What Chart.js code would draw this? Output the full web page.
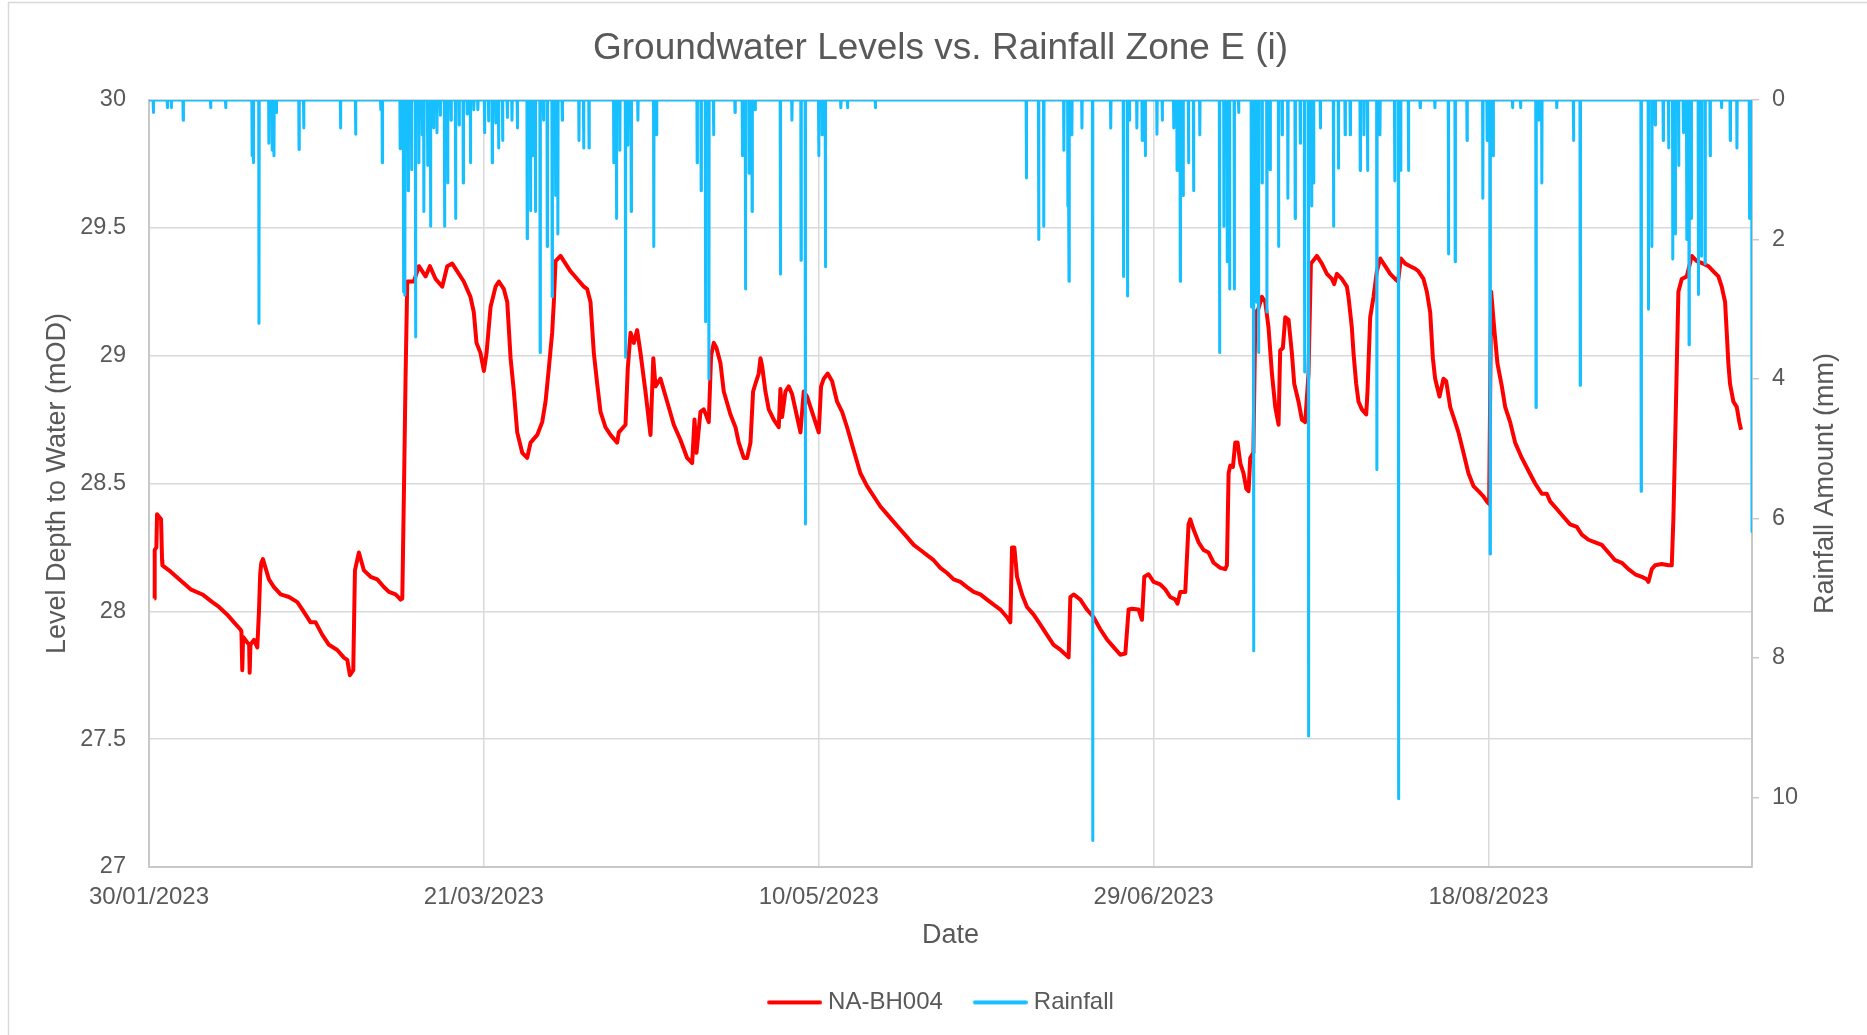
<!DOCTYPE html>
<html><head><meta charset="utf-8">
<script src="https://cdn.jsdelivr.net/npm/chart.js@4.4.1/dist/chart.umd.min.js"></script>
<style>html,body{margin:0;padding:0;background:#fff;} #wrap{width:1867px;height:1035px;position:relative;}</style>
</head><body><div id="wrap"><canvas id="c" width="1867" height="1035"></canvas></div>
<script>
const chartTitle = 'Groundwater Levels vs. Rainfall Zone E (i)';
const xTitle = 'Date';
const yLeftTitle = 'Level Depth to Water (mOD)';
const yRightTitle = 'Rainfall Amount (mm)';
const seriesNames = ['NA-BH004', 'Rainfall'];
// x values are days since 30/01/2023
const xTickLabels = ['30/01/2023', '21/03/2023', '10/05/2023', '29/06/2023', '18/08/2023'];
const xMaxDay = 239.35;

const gwDays = [0.8,0.85,1.1,1.2,1.8,1.95,2.0,3.24,4.98,6.22,7.97,9.46,10.45,11.69,12.69,13.69,13.8,13.93,14.05,14.68,14.95,15.03,15.15,15.67,16.17,16.42,16.6,16.77,17.01,17.91,18.66,19.66,20.9,22.15,22.9,24.13,24.88,25.88,26.87,28.11,29.1,29.6,30.0,30.5,30.75,31.34,32.09,33.09,34.08,35.07,35.82,36.82,37.57,37.82,38.06,38.3,38.56,39.55,40.3,41.3,41.94,42.79,43.79,44.53,45.28,46.03,47.0,48.0,48.5,48.9,49.5,50.0,50.4,51.0,51.75,52.24,52.99,53.49,53.99,54.48,54.98,55.73,56.47,56.97,57.97,58.71,59.21,59.7,60.2,60.45,60.7,61.45,62.19,62.94,63.94,64.93,65.43,65.92,66.42,66.92,67.42,68.16,68.91,69.9,70.15,71.15,71.49,71.9,72.39,72.89,73.39,74.13,74.88,75.3,75.63,76.37,77.37,78.36,79.36,80.35,81.1,81.45,81.75,82.34,82.84,83.58,83.93,84.33,84.73,85.33,85.82,86.82,87.57,88.06,88.81,89.31,89.81,90.2,90.55,91.04,91.3,91.55,92.04,92.54,93.28,94.03,94.28,94.53,95.03,95.52,96.02,96.77,97.27,97.76,98.26,98.76,99.5,100.0,100.35,100.75,101.34,102.0,102.74,103.49,104.23,105.22,106.22,107.22,108.21,109.21,110.2,111.19,112.19,113.19,114.18,115.18,116.17,117.16,118.16,119.16,120.15,121.15,122.14,123.13,124.13,125.13,126.12,127.12,128.11,128.61,128.86,129.21,129.61,130.35,131.1,132.09,133.09,134.08,135.07,136.07,137.31,137.57,138.06,139.06,140.05,141.04,142.04,143.04,144.03,145.03,145.78,146.27,146.77,147.76,148.26,148.61,149.25,150.0,151.0,151.74,152.49,153.24,153.58,153.98,154.73,155.22,155.48,155.97,156.72,157.46,158.21,158.96,159.96,160.7,160.95,161.2,161.45,161.85,162.19,162.54,162.94,163.43,163.84,164.18,164.43,164.9,165.2,165.6,166.17,166.67,167.16,167.67,168.16,168.66,168.9,169.3,169.66,170.15,170.65,171.0,171.64,172.14,172.64,173.13,173.49,174.38,175.13,175.88,176.62,176.97,177.37,178.12,178.86,179.1,179.6,179.85,180.25,180.6,181.1,181.75,181.94,182.34,182.84,183.34,183.84,184.58,185.33,186.07,186.5,186.92,187.57,188.31,189.06,189.55,190.3,190.8,191.3,191.7,192.04,192.69,193.28,193.69,194.28,195.03,195.52,196.27,197.01,197.76,198.51,199.25,199.75,200.1,200.4,200.85,201.34,202.0,202.49,203.24,203.98,204.98,205.97,206.97,207.97,208.71,209.21,210.2,211.19,212.19,213.19,213.94,214.93,215.93,216.92,217.91,218.91,219.91,220.9,221.9,222.89,223.64,223.88,224.38,224.88,225.88,226.87,227.37,227.61,227.87,228.11,228.36,228.86,229.61,230.36,231.1,232.09,232.84,233.58,234.33,234.83,235.33,235.58,235.82,236.07,236.57,237.07,237.46,237.72];
const gwLevels = [28.05,28.24,28.25,28.38,28.36,28.2,28.18,28.155,28.115,28.086,28.066,28.036,28.017,27.987,27.957,27.928,27.92,27.77,27.9,27.878,27.87,27.76,27.87,27.888,27.859,28.0,28.145,28.19,28.204,28.125,28.095,28.066,28.056,28.036,28.007,27.957,27.957,27.908,27.869,27.849,27.819,27.81,27.75,27.77,28.16,28.23,28.16,28.135,28.125,28.095,28.076,28.066,28.046,28.05,28.46,28.9,29.29,29.29,29.35,29.31,29.35,29.3,29.27,29.35,29.36,29.33,29.29,29.23,29.17,29.05,29.01,28.94,29.01,29.19,29.27,29.29,29.26,29.21,28.99,28.86,28.7,28.62,28.6,28.66,28.69,28.74,28.82,28.95,29.09,29.21,29.37,29.39,29.36,29.33,29.3,29.27,29.26,29.21,29.01,28.89,28.78,28.72,28.69,28.66,28.7,28.73,28.95,29.09,29.05,29.1,29.01,28.86,28.69,28.99,28.88,28.91,28.82,28.73,28.67,28.6,28.58,28.75,28.62,28.78,28.79,28.74,29.0,29.05,29.03,28.97,28.86,28.77,28.72,28.66,28.6,28.6,28.66,28.86,28.89,28.93,28.99,28.96,28.86,28.79,28.75,28.72,28.87,28.76,28.86,28.88,28.85,28.76,28.7,28.86,28.84,28.8,28.74,28.7,28.88,28.91,28.93,28.9,28.82,28.78,28.72,28.63,28.54,28.49,28.45,28.41,28.38,28.35,28.32,28.29,28.26,28.24,28.22,28.2,28.17,28.15,28.125,28.115,28.095,28.076,28.066,28.046,28.026,28.007,27.977,27.957,28.25,28.25,28.135,28.066,28.017,27.987,27.948,27.908,27.869,27.85,27.82,28.056,28.066,28.046,28.007,27.977,27.93,27.89,27.86,27.83,27.835,28.007,28.01,28.007,27.967,28.135,28.145,28.115,28.105,28.086,28.056,28.046,28.03,28.076,28.076,28.34,28.36,28.32,28.27,28.24,28.23,28.19,28.17,28.165,28.18,28.54,28.57,28.565,28.66,28.66,28.58,28.54,28.48,28.47,28.6,28.62,29.17,29.18,29.23,29.21,29.11,28.93,28.8,28.73,29.02,29.03,29.15,29.14,29.01,28.89,28.82,28.75,28.74,28.93,29.36,29.39,29.36,29.32,29.3,29.28,29.32,29.3,29.27,29.23,29.11,29.01,28.89,28.82,28.79,28.77,28.86,29.15,29.23,29.33,29.38,29.35,29.32,29.3,29.29,29.38,29.36,29.35,29.34,29.33,29.3,29.25,29.17,28.99,28.91,28.84,28.91,28.9,28.8,28.74,28.7,28.62,28.54,28.49,28.47,28.45,28.43,28.42,29.25,29.11,28.97,28.88,28.8,28.74,28.66,28.6,28.55,28.5,28.46,28.46,28.43,28.4,28.37,28.34,28.33,28.3,28.28,28.27,28.26,28.23,28.2,28.19,28.165,28.145,28.135,28.125,28.115,28.165,28.18,28.185,28.18,28.18,28.36,28.66,28.95,29.25,29.3,29.31,29.39,29.37,29.36,29.35,29.33,29.31,29.27,29.21,29.09,28.97,28.89,28.82,28.8,28.74,28.71];

// rainfall events (day since 30/01/2023, mm); rain is zero between them
const rainDays = [0.65,2.74,3.33,5.1,9.2,11.45,15.4,15.58,16.42,17.9,18.4,18.66,19.0,22.4,23.1,28.6,30.85,34.6,34.83,37.5,38.0,38.2,38.7,39.2,39.8,40.3,40.8,41.04,41.6,42.04,42.5,43.0,43.5,44.13,44.6,45.1,45.78,46.3,46.92,47.5,48.0,48.5,49.1,50.1,50.7,51.25,51.75,52.2,52.8,53.5,54.2,55.0,56.47,56.97,57.3,57.7,58.4,58.9,59.46,60.2,60.7,61.05,61.7,64.2,64.9,65.7,69.4,69.8,70.3,71.15,71.5,72.0,73.0,75.37,75.8,81.85,82.44,83.09,83.6,84.3,87.5,88.6,89.06,89.6,90.05,90.5,94.28,96.0,97.36,98.0,100.0,100.5,101.0,103.3,104.3,108.46,131.0,132.84,133.6,136.6,137.2,137.37,137.8,139.3,140.9,143.6,145.5,146.1,146.4,147.5,148.3,148.76,150.5,151.3,153.0,153.5,153.98,154.4,155.22,155.97,156.9,159.85,160.5,161.0,161.35,162.05,162.7,164.6,164.93,165.4,165.67,166.2,166.92,167.4,168.66,169.2,170.05,171.14,171.9,172.54,173.13,173.6,173.9,174.9,176.87,177.6,178.6,179.36,180.85,181.4,181.95,183.34,183.8,186.0,186.57,186.9,188.06,189.8,192.0,194.03,195.03,196.8,199.16,199.8,200.25,200.7,203.6,204.8,207.1,207.5,207.97,210.2,212.7,213.7,222.8,223.88,224.4,224.9,226.1,226.9,227.52,227.9,228.4,229.1,229.6,229.95,230.3,231.34,231.8,232.34,233.1,234.8,236.1,237.1,238.97,239.35];
const rainMm = [0.18,0.11,0.11,0.29,0.11,0.11,0.8,0.9,3.2,0.62,0.72,0.8,0.18,0.71,0.4,0.4,0.49,0.14,0.9,0.7,2.75,2.8,1.3,1.0,3.4,0.9,0.5,1.6,0.94,1.81,0.4,0.47,0.22,1.81,1.19,0.29,1.7,0.36,1.19,0.2,0.9,0.14,0.14,0.47,0.3,0.9,0.33,0.69,0.58,0.25,0.29,0.4,1.99,1.59,0.8,1.6,3.62,0.29,2.1,2.82,1.37,1.92,0.29,0.58,0.69,0.69,0.9,1.7,0.72,3.69,0.65,1.6,0.29,2.1,0.5,0.9,1.3,3.18,4.0,0.5,0.18,0.8,2.71,1.05,1.6,0.14,2.5,0.29,2.3,6.08,0.8,0.5,2.39,0.11,0.11,0.11,1.12,2.0,1.81,0.72,1.52,2.6,0.5,0.4,10.62,0.4,2.53,2.81,0.29,0.4,0.58,0.8,0.49,0.29,0.4,1.01,2.6,1.37,0.9,1.3,0.5,3.62,1.81,2.32,2.71,2.71,0.18,2.97,7.9,2.9,3.62,1.19,3.04,1.0,2.1,0.5,1.41,1.7,0.62,3.9,9.12,1.52,1.19,0.4,1.81,0.98,0.5,0.5,1.01,0.5,1.01,5.3,0.5,1.16,10.02,1.01,1.01,0.11,0.11,2.21,2.32,0.58,1.41,0.58,6.51,0.8,0.11,0.11,4.41,0.29,1.19,0.11,0.58,4.09,5.61,3.0,2.1,0.36,0.58,0.69,2.28,1.92,0.94,0.47,2.0,3.51,1.7,2.79,2.24,2.35,0.8,0.11,0.58,0.69,1.7,6.19];

const leftTicks = {min: 27, max: 30, step: 0.5};
const rightTicks = {min: 0, max: 11, step: 2};

const gwData = gwDays.map((d, i) => ({x: d, y: gwLevels[i]}));
const spikeHalf = 0.04;
const rainData = [{x: 0, y: 0}];
rainDays.forEach((d, i) => {
  rainData.push({x: d - spikeHalf, y: 0});
  rainData.push({x: d, y: rainMm[i]});
  if (d + spikeHalf <= xMaxDay) rainData.push({x: d + spikeHalf, y: 0});
});

const FONT = "'Liberation Sans', Arial, sans-serif";
const TXT = '#595959';
Chart.defaults.font.family = FONT;
Chart.defaults.color = TXT;

// legend sample: a 55px line sitting close to its label
function legendLine(color) {
  const c = document.createElement('canvas');
  c.width = 61; c.height = 8;
  const g = c.getContext('2d');
  g.strokeStyle = color; g.lineWidth = 4; g.lineCap = 'round';
  g.beginPath(); g.moveTo(8, 4); g.lineTo(59, 4); g.stroke();
  return c;
}

const framePlugin = {
  id: 'frame',
  beforeDraw(chart) {
    const ctx = chart.ctx;
    ctx.save();
    ctx.fillStyle = '#ffffff';
    ctx.fillRect(0, 0, chart.width, chart.height);
    ctx.strokeStyle = '#d9d9d9';
    ctx.lineWidth = 1.5;
    ctx.strokeRect(8.5, 2.5, chart.width + 10, chart.height + 10);
    ctx.restore();
  },
  afterDraw(chart) {
    // right axis title, reading bottom-to-top like the left one
    const ctx = chart.ctx;
    const area = chart.chartArea;
    ctx.save();
    ctx.translate(1826, (area.top + area.bottom) / 2);
    ctx.rotate(-Math.PI / 2);
    ctx.fillStyle = TXT;
    ctx.font = "27px " + FONT;
    ctx.textAlign = 'center';
    ctx.textBaseline = 'middle';
    ctx.fillText(yRightTitle, 0, 0);
    ctx.restore();
  }
};

new Chart(document.getElementById('c'), {
  type: 'line',
  data: {
    datasets: [
      {label: seriesNames[0], data: gwData, yAxisID: 'y', borderColor: '#ff0000', backgroundColor: '#ff0000',
       borderWidth: 4, pointRadius: 0, tension: 0, order: 2, borderJoinStyle: 'round'},
      {label: seriesNames[1], data: rainData, yAxisID: 'y2', borderColor: '#17bfff', backgroundColor: '#17bfff',
       borderWidth: 3, pointRadius: 0, tension: 0, order: 1, borderJoinStyle: 'round', borderCapStyle: 'round'}
    ]
  },
  options: {
    responsive: false,
    animation: false,
    devicePixelRatio: 1,
    layout: {padding: {left: 14, right: 0, top: 0, bottom: 10.6}},
    plugins: {
      tooltip: {enabled: false},
      title: {display: true, text: chartTitle, color: TXT, font: {size: 37, weight: 'normal', family: FONT},
              padding: {top: 26.6, bottom: 29}},
      legend: {
        position: 'bottom',
        labels: {
          color: TXT, font: {size: 24, family: FONT}, usePointStyle: true, pointStyleWidth: 49,
          padding: 30,
          sort: (a, b) => a.datasetIndex - b.datasetIndex,
          generateLabels(chart) {
            const items = Chart.defaults.plugins.legend.labels.generateLabels(chart);
            items.forEach(it => { it.pointStyle = legendLine(chart.data.datasets[it.datasetIndex].borderColor); });
            return items;
          }
        }
      }
    },
    scales: {
      x: {
        type: 'linear', position: 'bottom', min: 0, max: xMaxDay,
        afterFit(s) { s.height = (1035 - 10.6 - s.chart.legend.height) - 867; },
        ticks: {stepSize: 50, includeBounds: false, padding: 16, color: TXT, font: {size: 24},
                callback: (v) => xTickLabels[Math.round(v / 50)], maxRotation: 0, autoSkip: false},
        grid: {color: '#d9d9d9', lineWidth: 1.5, drawTicks: false},
        border: {color: '#c8c8c8', width: 2},
        title: {display: true, text: xTitle, color: TXT, font: {size: 27}, padding: {top: 0, bottom: 8.6}}
      },
      y: {
        type: 'linear', position: 'left', min: leftTicks.min, max: leftTicks.max,
        afterFit(s) { s.width = 149 - 14; },
        ticks: {stepSize: leftTicks.step, padding: 23, color: TXT, font: {size: 23.5},
                callback: (v) => String(Math.round(v * 10) / 10)},
        grid: {color: '#d9d9d9', lineWidth: 1.5, drawTicks: false},
        border: {color: '#c8c8c8', width: 2},
        title: {display: true, text: yLeftTitle, color: TXT, font: {size: 27}, padding: {top: 27, bottom: 0}}
      },
      y2: {
        type: 'linear', position: 'right', min: rightTicks.min, max: rightTicks.max, reverse: true,
        afterFit(s) { s.width = 1867 - 1752; },
        ticks: {stepSize: rightTicks.step, includeBounds: false, padding: 13, color: TXT, font: {size: 23.5}},
        grid: {drawOnChartArea: false, drawTicks: true, tickLength: 7, color: '#c8c8c8', lineWidth: 1.5},
        border: {color: '#c8c8c8', width: 2},
        title: {display: false, text: yRightTitle}
      }
    }
  },
  plugins: [framePlugin]
});
</script>
</body></html>
